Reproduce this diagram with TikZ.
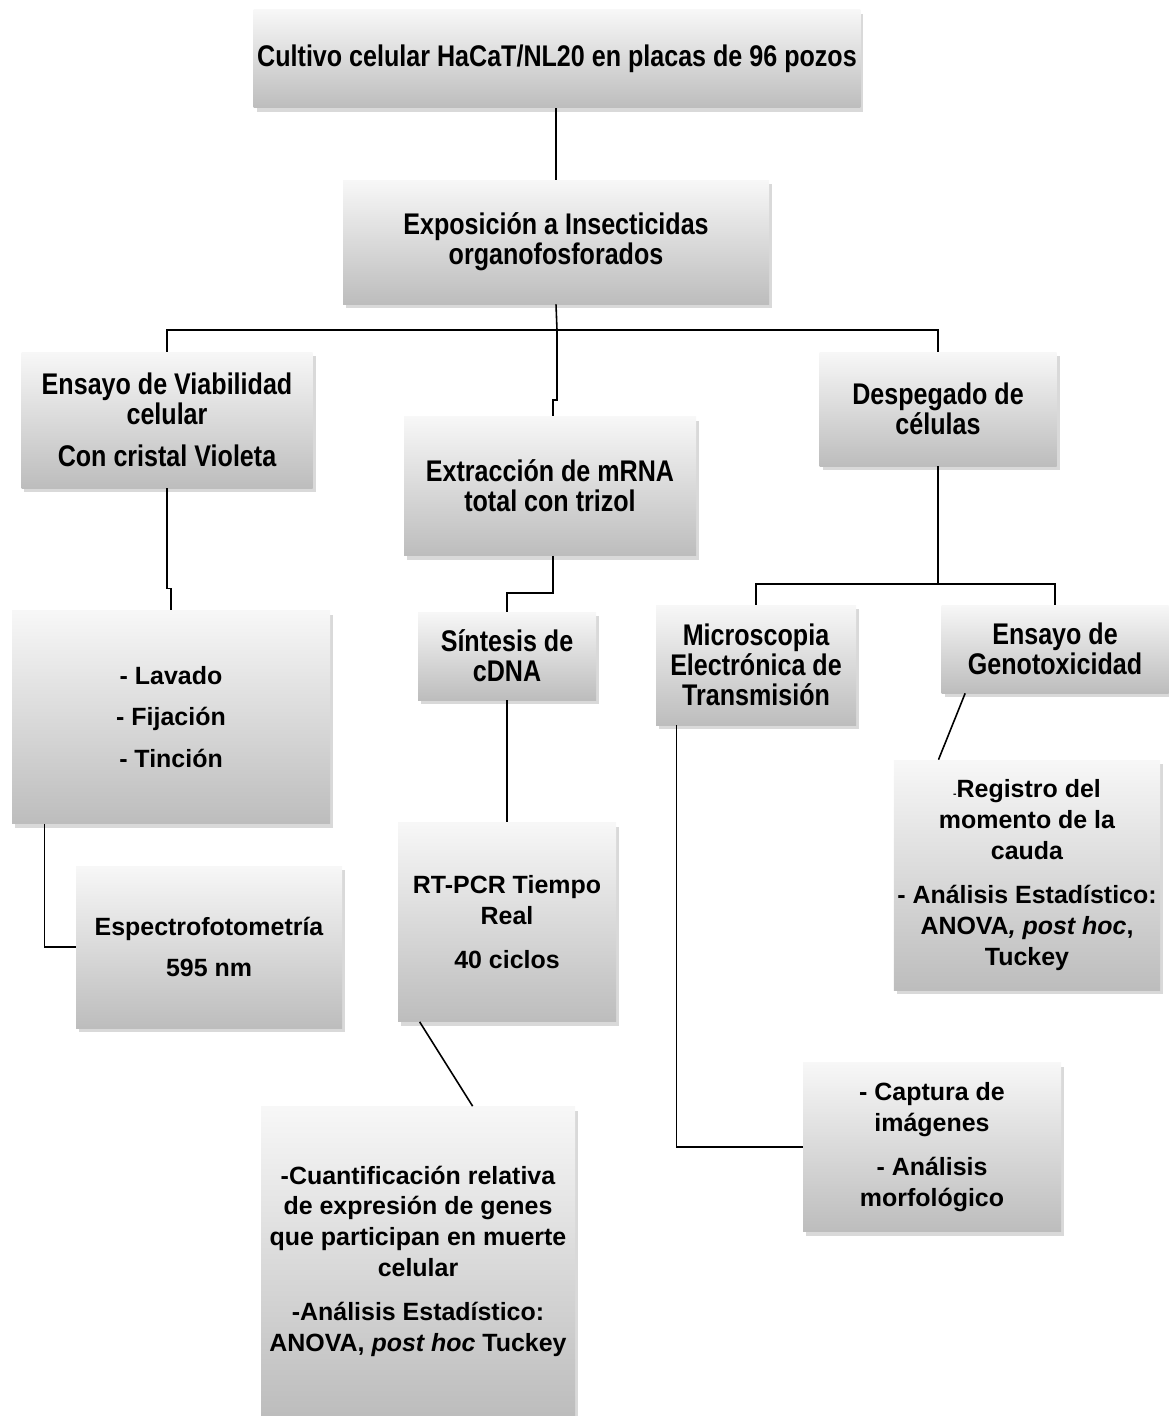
\documentclass[tikz,border=0pt]{standalone}
\usepackage{fontspec}
\setmainfont{Liberation Sans}
\newfontfamily\narrowfont[FakeStretch=0.84]{Liberation Sans}
\usetikzlibrary{shadows}
\tikzset{
  caja/.style={rectangle, top color=black!3, bottom color=black!26, draw=none,
    drop shadow={shadow xshift=0.6mm, shadow yshift=-0.8mm, opacity=0.3},
    align=center, inner sep=2pt},
  sz/.style 2 args={minimum width=#1*0.02cm, minimum height=#2*0.02cm},
  estrecho/.style={font=\narrowfont\bfseries\fontsize{17}{17}\selectfont},
  normal/.style={font=\bfseries\fontsize{14.2}{17.6}\selectfont},
  linea/.style={line width=0.9pt}
}
\begin{document}
\begin{tikzpicture}[x=0.02cm, y=-0.02cm]
\useasboundingbox (0,0) rectangle (1169,1416);
% Cajas
\node[caja, estrecho, sz={606}{98}] (cultivo) at (557,59) {Cultivo celular HaCaT/NL20 en placas de 96 pozos};
\node[caja, estrecho, sz={426}{124}] (expo) at (556,242) {Exposición a Insecticidas\\organofosforados};
\node[caja, estrecho, sz={291}{136}] (viab) at (167,420) {Ensayo de Viabilidad\\celular\\[0.25cm]Con cristal Violeta};
\node[caja, estrecho, sz={292}{139}] (extr) at (550,486) {Extracción de mRNA\\total con trizol};
\node[caja, estrecho, sz={237}{114}] (desp) at (938,409) {Despegado de\\células};
\node[caja, normal, sz={318}{213}] (lavado) at (171,717) {- Lavado\\[0.22cm]-  Fijación\\[0.22cm]- Tinción};
\node[caja, estrecho, sz={178}{88}] (sint) at (507,656) {Síntesis de\\cDNA};
\node[caja, estrecho, sz={200}{120}] (micro) at (756,665) {Microscopia\\Electrónica de\\Transmisión};
\node[caja, estrecho, sz={227}{88}] (geno) at (1055,649) {Ensayo de\\Genotoxicidad};
\node[caja, normal, sz={266}{162}] (espec) at (209,947) {Espectrofotometría\\[0.22cm]595 nm};
\node[caja, normal, sz={218}{199}] (rtpcr) at (507,922) {RT-PCR Tiempo\\Real\\[0.25cm]40 ciclos};
\node[caja, normal, sz={254}{230}] (registro) at (1027,875) {{\fontsize{6}{6}\selectfont -}Registro del\\momento de la\\cauda\\[0.25cm]- Análisis Estadístico:\\ANOVA\textit{, post hoc},\\Tuckey};
\node[caja, normal, sz={314}{309}] (cuant) at (418,1261) {-Cuantificación relativa\\de expresión de genes\\que participan en muerte\\celular\\[0.25cm]-Análisis Estadístico:\\ANOVA, \textit{post hoc} Tuckey};
\node[caja, normal, sz={258}{169}] (captura) at (932,1147) {- Captura de\\imágenes\\[0.25cm]- Análisis\\morfológico};
% Uniones
\coordinate (j1) at (557,330);
\coordinate (j2) at (938,584);
% Conectores
\draw[linea] (cultivo.south) -- (expo.south |- cultivo.south) -- (expo.north);
\draw[linea] (expo.south) -- (j1);
\draw[linea] (viab.north) -- (viab.north |- j1) -- (desp.north |- j1) -- (desp.north);
\draw[linea] (j1) -- ++(0,70) -| ([xshift=0.06cm]extr.north);
\draw[linea] (viab.south) -- ++(0,100) -| (lavado.north);
\draw[linea] ([xshift=0.06cm]extr.south) -- ++(0,37) -| (sint.north);
\draw[linea] (sint.south) -- (rtpcr.north);
\draw[linea] ([xshift=0.44cm]rtpcr.south west) -- ([xshift=4.24cm]cuant.north west);
\draw[linea] ([xshift=0.66cm]lavado.south west) |- (espec.west);
\draw[linea] (desp.south) -- (j2);
\draw[linea] (micro.north) |- (j2) -| (geno.north);
\draw[linea] ([xshift=0.48cm]geno.south west) -- ([xshift=0.9cm]registro.north west);
\draw[linea] ([xshift=0.42cm]micro.south west) |- (captura.west);
\end{tikzpicture}
\end{document}
